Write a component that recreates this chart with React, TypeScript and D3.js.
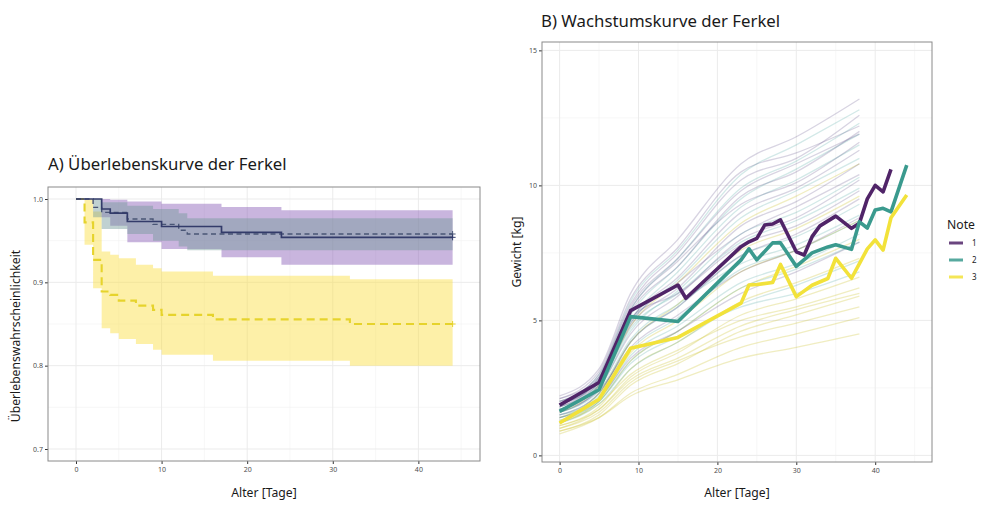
import React, { useEffect, useRef } from 'react';
import * as d3 from 'd3';

// ---- Panel A: Kaplan-Meier (Überleben) ----
const kmTimes1 = [0, 3, 4, 6, 10, 17, 24, 44];
const kmSurv1 = [1, 0.988, 0.983, 0.973, 0.967, 0.96, 0.954, 0.954];
const kmUpper1 = [1, 1, 0.999, 0.997, 0.9944, 0.9904, 0.9864, 0.9864];
const kmLower1 = [1, 0.978, 0.968, 0.948, 0.94, 0.93, 0.921, 0.921];

const kmTimes2 = [0, 2, 3, 6, 9, 12, 13, 44];
const kmSurv2 = [1, 0.99, 0.984, 0.976, 0.9696, 0.9625, 0.958, 0.958];
const kmUpper2 = [1, 1, 0.996, 0.992, 0.988, 0.983, 0.977, 0.977];
const kmLower2 = [1, 0.978, 0.964, 0.958, 0.95, 0.943, 0.9384, 0.9384];

const kmTimes3 = [0, 1, 2, 3, 4, 5, 7, 9, 10, 16, 32, 44];
const kmSurv3 = [1, 0.972, 0.927, 0.889, 0.885, 0.878, 0.872, 0.867, 0.861, 0.8556, 0.85, 0.85];
const kmUpper3 = [1, 1, 0.985, 0.937, 0.933, 0.929, 0.921, 0.917, 0.913, 0.908, 0.9036, 0.9036];
const kmLower3 = [1, 0.945, 0.893, 0.845, 0.839, 0.832, 0.826, 0.819, 0.813, 0.806, 0.8, 0.8];

const yTicksA = [0.7, 0.8, 0.9, 1.0];
const xTicks = [0, 10, 20, 30, 40];

// ---- Panel B: Wachstumskurven ----
const noteLabels = ['1', '2', '3'];
const noteColors = ['#502468', '#3a9a8e', '#f2e23a'];
const cloudColors = ['#3d2a6e', '#21908c', '#c8c020'];

const meanDays1 = [0, 5, 9, 15, 16, 23, 24, 25, 26, 27, 28, 30, 31, 32, 33, 35, 37, 38, 39, 40, 41, 42];
const meanWeight1 = [1.86, 2.7, 5.36, 6.31, 5.82, 7.73, 7.91, 8.04, 8.53, 8.57, 8.72, 7.54, 7.42, 8.1, 8.5, 8.86, 8.41, 8.6, 9.5, 10.0, 9.76, 10.59];
const meanDays2 = [0, 5, 9, 15, 23, 24, 25, 27, 28, 30, 31, 32, 34, 35, 37, 38, 39, 40, 41, 42, 44];
const meanWeight2 = [1.63, 2.43, 5.14, 4.96, 7.24, 7.65, 7.24, 7.87, 7.87, 7.0, 7.25, 7.5, 7.72, 7.8, 7.63, 8.65, 8.42, 9.09, 9.15, 9.02, 10.75];
const meanDays3 = [0, 5, 9, 15, 23, 24, 25, 27, 28, 30, 32, 34, 35, 37, 38, 39, 40, 41, 42, 44];
const meanWeight3 = [1.2, 2.08, 3.97, 4.37, 5.64, 6.31, 6.33, 6.4, 7.07, 5.88, 6.3, 6.55, 7.3, 6.56, 7.1, 7.65, 7.98, 7.6, 8.8, 9.64];

const pigDays = [0, 5, 9, 15, 23, 30, 38];
const pigs1 = [
  [2.2, 3.2, 6.0, 8.0, 10.8, 11.8, 13.2],
  [2.0, 3.0, 5.6, 7.5, 10.2, 11.0, 12.6],
  [1.9, 2.8, 5.3, 7.0, 9.6, 10.5, 12.0],
  [1.8, 2.7, 5.0, 6.6, 9.0, 9.9, 11.3],
  [2.1, 2.9, 5.4, 7.2, 9.3, 10.1, 11.6],
  [1.7, 2.6, 4.8, 6.2, 8.5, 9.4, 10.8],
  [1.6, 2.5, 4.5, 5.9, 8.0, 8.8, 10.2],
  [1.9, 2.7, 4.9, 6.4, 8.2, 9.2, 10.4],
  [1.5, 2.3, 4.2, 5.5, 7.4, 8.2, 9.5],
  [2.0, 2.8, 5.1, 6.0, 7.8, 8.5, 9.8],
  [1.7, 2.4, 4.0, 5.2, 6.8, 7.6, 8.8],
  [1.4, 2.1, 3.6, 4.6, 6.0, 6.8, 7.9],
  [2.1, 3.1, 5.8, 7.7, 10.5, 11.2, 12.2],
  [1.8, 2.9, 5.5, 7.3, 9.8, 10.8, 11.9],
];
const pigs2 = [
  [2.0, 3.0, 5.7, 7.6, 10.4, 11.5, 12.8],
  [1.9, 2.8, 5.2, 7.0, 9.5, 10.6, 11.9],
  [1.7, 2.6, 4.9, 6.5, 8.8, 9.8, 11.0],
  [1.6, 2.5, 4.6, 6.1, 8.2, 9.0, 10.3],
  [1.8, 2.6, 4.7, 6.0, 7.9, 8.7, 9.9],
  [1.5, 2.3, 4.2, 5.5, 7.4, 8.1, 9.3],
  [1.4, 2.2, 3.9, 5.1, 6.9, 7.6, 8.7],
  [1.6, 2.4, 4.3, 5.6, 7.1, 7.8, 8.9],
  [1.3, 2.0, 3.5, 4.6, 6.2, 6.9, 7.9],
  [1.5, 2.1, 3.7, 4.8, 6.4, 7.1, 8.2],
  [1.2, 1.9, 3.2, 4.2, 5.6, 6.3, 7.2],
  [1.4, 2.0, 3.4, 4.4, 5.5, 6.0, 6.8],
  [1.9, 2.9, 5.4, 7.3, 9.9, 10.9, 12.3],
  [1.7, 2.7, 5.0, 6.8, 9.2, 10.2, 11.5],
];
const pigs3 = [
  [1.6, 2.6, 4.8, 6.4, 8.6, 9.6, 10.8],
  [1.4, 2.3, 4.2, 5.6, 7.6, 8.4, 9.6],
  [1.3, 2.1, 3.8, 5.0, 6.8, 7.6, 8.7],
  [1.2, 2.0, 3.5, 4.6, 6.2, 7.0, 8.0],
  [1.1, 1.8, 3.2, 4.2, 5.7, 6.4, 7.3],
  [1.0, 1.7, 2.9, 3.8, 5.2, 5.8, 6.6],
  [1.2, 1.9, 3.0, 3.9, 5.0, 5.5, 6.2],
  [0.9, 1.5, 2.6, 3.4, 4.6, 5.2, 5.9],
  [1.0, 1.6, 2.7, 3.5, 4.4, 4.9, 5.5],
  [0.8, 1.4, 2.3, 3.0, 4.0, 4.5, 5.1],
  [1.1, 1.7, 2.8, 3.6, 4.8, 5.4, 6.0],
  [0.9, 1.4, 2.2, 2.8, 3.6, 4.0, 4.5],
];
const yTicksB = [0, 5, 10, 15];

const FONT = '"Noto Sans", "DejaVu Sans", sans-serif';

export default function App() {
  const svgRef = useRef<SVGSVGElement>(null);

  useEffect(() => {
    if (!svgRef.current) return;
    document.body.style.margin = '0';
    const svg = d3.select(svgRef.current);
    svg.selectAll('*').remove();

    const defs = svg.append('defs');

    // generic frame: grid, ticks
    function frame(
      g: d3.Selection<SVGGElement, unknown, null, undefined>,
      x: d3.ScaleLinear<number, number>,
      y: d3.ScaleLinear<number, number>,
      yTicks: number[],
      yMinor: number[],
      xMinor: number[],
      yFmt: (d: number) => string
    ) {
      const [x0, x1] = x.range();
      const [y0, y1] = y.range();
      g.append('rect').attr('x', x0).attr('y', y1).attr('width', x1 - x0).attr('height', y0 - y1).attr('fill', '#fff');
      g.selectAll('.vmin').data(xMinor).join('line')
        .attr('x1', d => x(d)).attr('x2', d => x(d)).attr('y1', y1).attr('y2', y0)
        .attr('stroke', '#f2f2f2').attr('stroke-width', 0.6);
      g.selectAll('.hmin').data(yMinor).join('line')
        .attr('x1', x0).attr('x2', x1).attr('y1', d => y(d)).attr('y2', d => y(d))
        .attr('stroke', '#f2f2f2').attr('stroke-width', 0.6);
      g.selectAll('.vmaj').data(xTicks).join('line')
        .attr('x1', d => x(d)).attr('x2', d => x(d)).attr('y1', y1).attr('y2', y0)
        .attr('stroke', '#ebebeb').attr('stroke-width', 1);
      g.selectAll('.hmaj').data(yTicks).join('line')
        .attr('x1', x0).attr('x2', x1).attr('y1', d => y(d)).attr('y2', d => y(d))
        .attr('stroke', '#ebebeb').attr('stroke-width', 1);

      const axB = g.append('g').attr('transform', `translate(0,${y0})`)
        .call(d3.axisBottom(x).tickValues(xTicks).tickSize(3).tickPadding(3).tickFormat(d3.format('d')));
      const axL = g.append('g').attr('transform', `translate(${x0},0)`)
        .call(d3.axisLeft(y).tickValues(yTicks).tickSize(3).tickPadding(2).tickFormat(d => yFmt(d as number)));
      [axB, axL].forEach(a => {
        a.select('.domain').remove();
        a.selectAll('line').attr('stroke', '#333');
        a.selectAll('text').attr('fill', '#4d4d4d').attr('font-size', 7).attr('font-family', FONT);
      });
    }

    function border(g: d3.Selection<SVGGElement, unknown, null, undefined>,
      x: d3.ScaleLinear<number, number>, y: d3.ScaleLinear<number, number>) {
      const [x0, x1] = x.range();
      const [y0, y1] = y.range();
      g.append('rect').attr('x', x0).attr('y', y1).attr('width', x1 - x0).attr('height', y0 - y1)
        .attr('fill', 'none').attr('stroke', '#8a8a8a').attr('stroke-width', 1);
    }

    // ================= Panel A =================
    const xA = d3.scaleLinear().domain([-3.27, 47.2]).range([48, 480]);
    const yA = d3.scaleLinear().domain([0.6856, 1.0144]).range([461, 187]);
    const gA = svg.append('g');
    frame(gA, xA, yA, yTicksA, [0.75, 0.85, 0.95], [5, 15, 25, 35, 45], d => d.toFixed(1));

    defs.append('clipPath').attr('id', 'clipA').append('rect')
      .attr('x', 48).attr('y', 187).attr('width', 432).attr('height', 274);
    const plotA = gA.append('g').attr('clip-path', 'url(#clipA)');

    const strata = [
      { t: kmTimes3, s: kmSurv3, up: kmUpper3, lo: kmLower3, fill: '#fade3e', line: '#e6d32c', dash: '8,5', w: 2.1 },
      { t: kmTimes1, s: kmSurv1, up: kmUpper1, lo: kmLower1, fill: '#875bb6', line: '#333b6a', dash: null, w: 1.7 },
      { t: kmTimes2, s: kmSurv2, up: kmUpper2, lo: kmLower2, fill: '#749a99', line: '#4a5676', dash: '5,3.5', w: 1.4 },
    ];

    strata.forEach(st => {
      const area = d3.area<number>()
        .x(i => xA(st.t[i]))
        .y0(i => yA(st.lo[i]))
        .y1(i => yA(st.up[i]))
        .curve(d3.curveStepAfter);
      plotA.append('path').datum(d3.range(st.t.length))
        .attr('d', area).attr('fill', st.fill).attr('fill-opacity', 0.45);
    });

    // lines: yellow first, then dashed navy, then solid navy
    [strata[0], strata[2], strata[1]].forEach(st => {
      const line = d3.line<number>()
        .x(i => xA(st.t[i]))
        .y(i => yA(st.s[i]))
        .curve(d3.curveStepAfter);
      const p = plotA.append('path').datum(d3.range(st.t.length))
        .attr('d', line).attr('fill', 'none').attr('stroke', st.line).attr('stroke-width', st.w);
      if (st.dash) p.attr('stroke-dasharray', st.dash);
      const last = st.t.length - 1;
      const cx = xA(st.t[last]);
      const cy = yA(st.s[last]);
      plotA.append('path').attr('d', `M${cx - 3},${cy}H${cx + 3}M${cx},${cy - 3}V${cy + 3}`)
        .attr('stroke', st.line).attr('stroke-width', 1);
    });

    border(gA, xA, yA);

    gA.append('text').attr('x', 48).attr('y', 170).text('A) Überlebenskurve der Ferkel')
      .attr('font-family', FONT).attr('font-size', 16.8).attr('fill', '#1a1a1a');
    gA.append('text').attr('x', 264).attr('y', 497).attr('text-anchor', 'middle').text('Alter [Tage]')
      .attr('font-family', FONT).attr('font-size', 12.2).attr('fill', '#1a1a1a');
    gA.append('text').attr('transform', 'translate(20,336) rotate(-90)').attr('text-anchor', 'middle')
      .text('Überlebenswahrscheinlichkeit')
      .attr('font-family', FONT).attr('font-size', 12.2).attr('fill', '#1a1a1a');

    // ================= Panel B =================
    const xB = d3.scaleLinear().domain([-2.23, 47.2]).range([542, 932]);
    const yB = d3.scaleLinear().domain([-0.245, 15.31]).range([462, 42]);
    const gB = svg.append('g');
    frame(gB, xB, yB, yTicksB, [2.5, 7.5, 12.5], [5, 15, 25, 35, 45], d => d3.format('d')(d));

    defs.append('clipPath').attr('id', 'clipB').append('rect')
      .attr('x', 542).attr('y', 42).attr('width', 390).attr('height', 420);
    const plotB = gB.append('g').attr('clip-path', 'url(#clipB)');

    const pigLine = d3.line<number>().x((_, i) => xB(pigDays[i])).y(d => yB(d)).curve(d3.curveMonotoneX);
    [pigs3, pigs2, pigs1].forEach((grp, gi) => {
      const col = cloudColors[2 - gi];
      grp.forEach(vals => {
        plotB.append('path').datum(vals).attr('d', pigLine)
          .attr('fill', 'none').attr('stroke', col)
          .attr('stroke-opacity', gi === 0 ? 0.28 : 0.2).attr('stroke-width', 1.3);
      });
    });

    const means = [
      { d: meanDays1, w: meanWeight1 },
      { d: meanDays2, w: meanWeight2 },
      { d: meanDays3, w: meanWeight3 },
    ];
    means.forEach((m, gi) => {
      const line = d3.line<number>().x((_, i) => xB(m.d[i])).y(v => yB(v)).curve(d3.curveLinear);
      plotB.append('path').datum(m.w).attr('d', line)
        .attr('fill', 'none').attr('stroke', noteColors[gi]).attr('stroke-width', 3.6)
        .attr('stroke-linejoin', 'round');
    });

    border(gB, xB, yB);

    gB.append('text').attr('x', 541).attr('y', 27).text('B) Wachstumskurve der Ferkel')
      .attr('font-family', FONT).attr('font-size', 16.8).attr('fill', '#1a1a1a');
    gB.append('text').attr('x', 737).attr('y', 497).attr('text-anchor', 'middle').text('Alter [Tage]')
      .attr('font-family', FONT).attr('font-size', 12.2).attr('fill', '#1a1a1a');
    gB.append('text').attr('transform', 'translate(521,252) rotate(-90)').attr('text-anchor', 'middle')
      .text('Gewicht [kg]')
      .attr('font-family', FONT).attr('font-size', 12.2).attr('fill', '#1a1a1a');

    // legend
    const leg = svg.append('g');
    leg.append('text').attr('x', 947).attr('y', 229).text('Note')
      .attr('font-family', FONT).attr('font-size', 12.2).attr('fill', '#1a1a1a');
    noteLabels.forEach((lab, i) => {
      const yy = 243 + i * 17;
      leg.append('line').attr('x1', 949).attr('x2', 963).attr('y1', yy).attr('y2', yy)
        .attr('stroke', noteColors[i]).attr('stroke-width', 3).attr('stroke-opacity', 0.85);
      leg.append('text').attr('x', 972).attr('y', yy + 3).text(lab)
        .attr('font-family', FONT).attr('font-size', 8).attr('fill', '#1a1a1a');
    });
  }, []);

  return (
    <svg ref={svgRef} width={992} height={512}
      style={{ position: 'absolute', left: 0, top: 0, background: '#fff' }} />
  );
}
